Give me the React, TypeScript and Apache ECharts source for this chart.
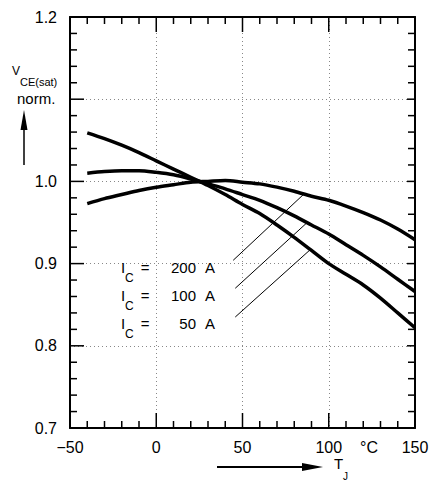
import React, { useEffect, useRef } from "react";
import * as echarts from "echarts";

const temps = [-40, -30, -20, -10, 0, 10, 20, 30, 40, 50, 60, 70, 80, 90, 100, 110, 120, 130, 140, 150];
const ic50 = [1.059, 1.052, 1.044, 1.035, 1.025, 1.015, 1.005, 0.995, 0.984, 0.972, 0.961, 0.947, 0.932, 0.916, 0.9, 0.887, 0.874, 0.858, 0.84, 0.822];
const ic100 = [1.01, 1.012, 1.013, 1.013, 1.011, 1.008, 1.003, 0.997, 0.991, 0.984, 0.977, 0.968, 0.958, 0.947, 0.936, 0.923, 0.91, 0.896, 0.881, 0.866];
const ic200 = [0.973, 0.979, 0.984, 0.989, 0.993, 0.996, 0.999, 1.0, 1.001, 0.999, 0.997, 0.993, 0.988, 0.982, 0.977, 0.97, 0.962, 0.953, 0.942, 0.929];

// leader lines (data space): [from, to]
const leader200 = [[44.6, 0.904], [85.8, 0.985]];
const leader100 = [[45.8, 0.87], [87.5, 0.95]];
const leader50 = [[45.8, 0.835], [89.3, 0.917]];

const yTickLabels = ["0.7", "0.8", "0.9", "1.0", "", "1.2"];
const currentLabels = ["200", "100", "50"];

// tick positions (major every 50 / 0.1, minor every 10 / 0.02)
const xTickValues: number[] = [];
for (let v = -50; v <= 150; v += 10) xTickValues.push(v);
const yTickSteps: number[] = [];
for (let k = 35; k <= 60; k += 1) yTickSteps.push(k);

const FONT = "'Liberation Sans', Arial, sans-serif";

export default function App() {
  const ref = useRef<HTMLDivElement>(null);
  useEffect(() => {
    document.body.style.margin = "0";
    const chart = echarts.init(ref.current!, undefined, { renderer: "svg" });
    const mkAxisLine = () => ({ show: true, onZero: false, lineStyle: { color: "#000", width: 2 } });
    const mkSplit = () => ({ show: true, lineStyle: { color: "#888", width: 1, type: [1, 3] } });
    const mkLine = (vals: number[]) => ({
      type: "line",
      data: temps.map((t, i) => [t, vals[i]]),
      smooth: 0.3,
      showSymbol: false,
      lineStyle: { color: "#000", width: 3.5 },
    });
    const mkLeader = (pts: number[][]) => ({
      type: "line",
      data: pts,
      showSymbol: false,
      lineStyle: { color: "#000", width: 1 },
    });
    chart.setOption({
      animation: false,
      grid: { left: 70, right: 21, top: 17, bottom: 57 },
      xAxis: [
        {
          type: "value", min: -50, max: 150, interval: 50, position: "bottom",
          axisLine: mkAxisLine(),
          axisTick: { show: false },
          axisLabel: {
            fontSize: 16, color: "#000", fontFamily: FONT, margin: 11,
            formatter: (v: number) => (v < 0 ? "\u2212" + Math.abs(v) : String(v)),
          },
          splitLine: mkSplit(),
        },
        {
          type: "value", min: -50, max: 150, interval: 50, position: "top",
          axisLine: mkAxisLine(),
          axisTick: { show: false },
          axisLabel: { show: false },
          splitLine: { show: false },
        },
      ],
      yAxis: [
        {
          type: "value", min: 0.7, max: 1.2, interval: 0.1, position: "left",
          axisLine: mkAxisLine(),
          axisTick: { show: false },
          axisLabel: {
            fontSize: 16, color: "#000", fontFamily: FONT, margin: 13,
            formatter: (v: number) => yTickLabels[Math.round((v - 0.7) / 0.1)] ?? "",
          },
          splitLine: mkSplit(),
        },
        {
          type: "value", min: 0.7, max: 1.2, interval: 0.1, position: "right",
          axisLine: mkAxisLine(),
          axisTick: { show: false },
          axisLabel: { show: false },
          splitLine: { show: false },
        },
      ],
      series: [
        mkLine(ic50), mkLine(ic100), mkLine(ic200),
        mkLeader(leader200), mkLeader(leader100), mkLeader(leader50),
      ],
    });

    const g: any[] = [];
    const rows = [267, 295, 323];
    rows.forEach((y, i) => {
      g.push(
        { type: "text", x: 121, y: y, style: { text: "I", font: `15px ${FONT}`, fill: "#000", align: "left", verticalAlign: "middle" } },
        { type: "text", x: 125, y: y + 11, style: { text: "C", font: `12px ${FONT}`, fill: "#000", align: "left", verticalAlign: "middle" } },
        { type: "text", x: 145, y: y, style: { text: "=", font: `15px ${FONT}`, fill: "#000", align: "center", verticalAlign: "middle" } },
        { type: "text", x: 196, y: y, style: { text: currentLabels[i], font: `15px ${FONT}`, fill: "#000", align: "right", verticalAlign: "middle" } },
        { type: "text", x: 205, y: y, style: { text: "A", font: `15px ${FONT}`, fill: "#000", align: "left", verticalAlign: "middle" } }
      );
    });
    g.push(
      { type: "text", x: 12, y: 71, style: { text: "V", font: `12px ${FONT}`, fill: "#000", align: "left", verticalAlign: "middle" } },
      { type: "text", x: 20, y: 82, style: { text: "CE(sat)", font: `11px ${FONT}`, fill: "#000", align: "left", verticalAlign: "middle" } },
      { type: "text", x: 17, y: 98, style: { text: "norm.", font: `15px ${FONT}`, fill: "#000", align: "left", verticalAlign: "middle" } },
      { type: "line", shape: { x1: 24, y1: 165, x2: 24, y2: 125 }, style: { stroke: "#000", lineWidth: 1.5 } },
      { type: "polygon", shape: { points: [[24, 110], [20.5, 130], [27.5, 130]] }, style: { fill: "#000" } },
      { type: "line", shape: { x1: 217, y1: 467, x2: 305, y2: 467 }, style: { stroke: "#000", lineWidth: 2 } },
      { type: "polygon", shape: { points: [[323, 467], [302, 463], [302, 471]] }, style: { fill: "#000" } },
      { type: "text", x: 334, y: 463, style: { text: "T", font: `15px ${FONT}`, fill: "#000", align: "left", verticalAlign: "middle" } },
      { type: "text", x: 343, y: 476, style: { text: "J", font: `10px ${FONT}`, fill: "#000", align: "left", verticalAlign: "middle" } },
      { type: "text", x: 369, y: 447, style: { text: "\u00b0C", font: `16px ${FONT}`, fill: "#000", align: "center", verticalAlign: "middle" } }
    );

    try {
      const toX = (v: number) => chart.convertToPixel({ xAxisIndex: 0 } as any, v) as unknown as number;
      const toY = (v: number) => chart.convertToPixel({ yAxisIndex: 0 } as any, v) as unknown as number;
      const left = toX(-50), right = toX(150), bottom = toY(0.7), top = toY(1.2);
      const tk = (x1: number, y1: number, x2: number, y2: number) => ({
        type: "line", silent: true, shape: { x1, y1, x2, y2 }, style: { stroke: "#000", lineWidth: 1.5 },
      });
      xTickValues.forEach((v) => {
        const x = toX(v);
        const major = v % 50 === 0;
        const len = major ? 15 : 7;
        g.push(tk(x, bottom, x, bottom - len));
        g.push(tk(x, top, x, top + len));
      });
      yTickSteps.forEach((k) => {
        const y = toY(k / 50);
        const major = k % 5 === 0;
        g.push(tk(left, y, left + (major ? 14 : 7), y));
        g.push(tk(right, y, right - (major ? 8 : 7), y));
      });
    } catch (e) {
      // ignore
    }
    chart.setOption({ graphic: g });
    return () => chart.dispose();
  }, []);
  return <div ref={ref} style={{ width: 436, height: 485 }} />;
}
